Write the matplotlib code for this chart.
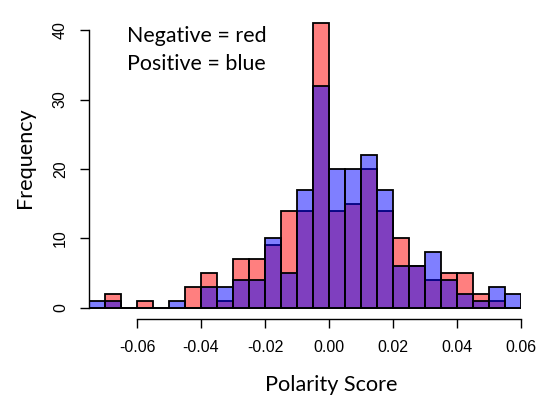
import numpy as np
import matplotlib
matplotlib.use("Agg")
import matplotlib.pyplot as plt

plt.rcParams["axes.unicode_minus"] = False

# bin edges of the two histograms (width 0.005)
bin_edges = np.round(np.arange(-0.075, 0.0601, 0.005), 4)
# counts per bin
neg_counts = [0, 2, 0, 1, 0, 0, 3, 5, 1, 7, 7, 9, 14, 14, 41, 14, 15, 20, 14, 10, 6, 4, 5, 5, 2, 1, 0]
pos_counts = [1, 1, 0, 0, 0, 1, 0, 3, 3, 4, 4, 10, 5, 17, 32, 20, 20, 22, 17, 6, 6, 8, 4, 2, 1, 3, 2]
x_ticks = [-0.06, -0.04, -0.02, 0.00, 0.02, 0.04, 0.06]
y_ticks = [0, 10, 20, 30, 40]

fig = plt.figure(figsize=(5.42, 4.12), dpi=100)
ax = fig.add_axes([89 / 542, 1 - 319.3 / 412, (521 - 89) / 542, (319.3 - 11.7) / 412])

widths = np.diff(bin_edges)
ax.bar(bin_edges[:-1], neg_counts, width=widths, align="edge",
       color=(1, 0, 0, 0.5), edgecolor="black", linewidth=1.3)
ax.bar(bin_edges[:-1], pos_counts, width=widths, align="edge",
       color=(0, 0, 1, 0.5), edgecolor="black", linewidth=1.3)

ax.set_xlim(-0.075, 0.06)
ax.set_ylim(-1.64, 42.64)

for s in ["top", "right"]:
    ax.spines[s].set_visible(False)
ax.spines["bottom"].set_bounds(-0.06, 0.06)
ax.spines["left"].set_bounds(0, 40)
ax.spines["bottom"].set_linewidth(1.0)
ax.spines["left"].set_linewidth(1.0)

ax.set_xticks(x_ticks)
ax.set_xticklabels(["%.2f" % v for v in x_ticks], family="Liberation Sans")
ax.set_yticks(y_ticks)
ax.set_yticklabels([str(v) for v in y_ticks], family="Liberation Sans",
                   rotation=90, va="center")
ax.tick_params(axis="x", length=6.2, width=1.0, pad=9, labelsize=11.5)
ax.tick_params(axis="y", length=6.2, width=1.0, pad=9, labelsize=11.5)

ax.set_xlabel("Polarity Score", family="Lato", fontsize=15.6)
ax.xaxis.set_label_coords((331 - 89) / 432, -(385 - 319.3) / 307.6, transform=ax.transAxes)
ax.xaxis.label.set_va("center")
ax.set_ylabel("Frequency", family="Lato", fontsize=15.6)
ax.yaxis.set_label_coords(-(89 - 25) / 432, (319.3 - 158) / 307.6, transform=ax.transAxes)
ax.yaxis.label.set_va("center")

ax.text(127 / 542, 1 - 36 / 412, "Negative = red", transform=fig.transFigure,
        family="Lato", fontsize=15.4, va="center", ha="left")
ax.text(127 / 542, 1 - 64 / 412, "Positive = blue", transform=fig.transFigure,
        family="Lato", fontsize=15.4, va="center", ha="left")

fig.savefig("out.png", dpi=100)
